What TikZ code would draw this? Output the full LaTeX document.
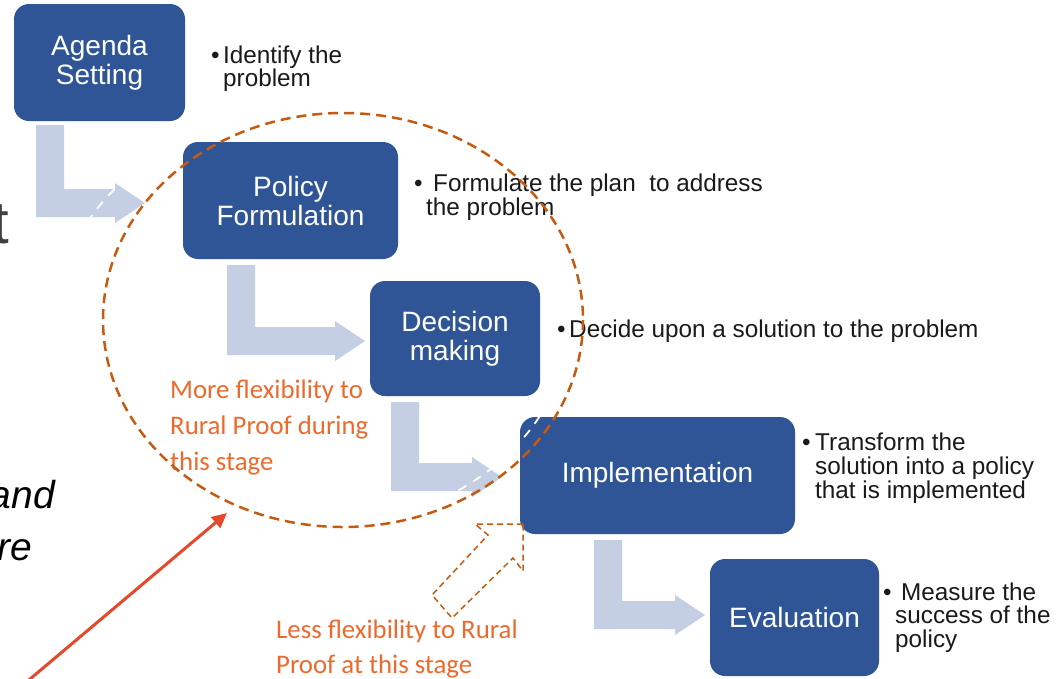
\documentclass[tikz,border=0pt]{standalone}
\usepackage{fontspec}
\setmainfont{Liberation Sans}
\newfontfamily\calibfont{Carlito}
\usetikzlibrary{arrows.meta}
\definecolor{boxblue}{HTML}{2F5597}
\definecolor{arrowgray}{HTML}{C4CFE3}
\definecolor{circbrown}{HTML}{C55A11}
\definecolor{noteorange}{HTML}{EE6A2C}
\definecolor{redarrow}{HTML}{E5482A}
\definecolor{fraggray}{HTML}{404040}
\definecolor{bodytext}{HTML}{1A1A1A}
\newcommand\bentarrow[4]{%
  \fill[larrow] (#1,#2) -- ({#1+28},#2) -- ({#1+28},{#3-28}) -- ({#4-30},{#3-28})
    -- ({#4-30},{#3-14-20}) -- (#4,{#3-14}) -- ({#4-30},{#3-14+20}) -- ({#4-30},#3)
    -- (#1,#3) -- cycle;}
\begin{document}
\begin{tikzpicture}[x=1pt,y=-1pt,
  stage/.style={fill=boxblue, rounded corners=15pt, text=white, align=center,
    font=\fontsize{28}{29}\selectfont, inner sep=0pt},
  btext/.style={anchor=base west, inner sep=0pt, font=\fontsize{24.3}{24}\selectfont, text=bodytext},
  note/.style={anchor=base west, inner sep=0pt, font=\calibfont\fontsize{26.8}{26}\selectfont, text=noteorange},
  larrow/.style={fill=arrowgray},
  circdash/.style={line width=2.5pt, dash pattern=on 10pt off 6pt},
]
\useasboundingbox (0,0) rectangle (1062,678);
\clip (0,0) rectangle (1062,678);
\fill[white] (0,0) rectangle (1062,678);

% fragments of slide text at the left edge
\node[anchor=base east, inner sep=0pt, font=\fontsize{60}{60}\selectfont, text=fraggray] (fragt) at (9,243) {t};
\node[anchor=base east, inner sep=0pt, font=\itshape\fontsize{39}{39}\selectfont, text=black] (fragand) at (55,508) {and};
\node[anchor=base east, inner sep=0pt, font=\itshape\fontsize{39}{39}\selectfont, text=black] (fragre) at (32,560) {re};

% bent arrows
\bentarrow{36}{125}{217}{145}
\bentarrow{227}{265}{355}{365}
\bentarrow{391}{402}{491}{502}
\bentarrow{594}{540}{629}{705}

% stage boxes
\node[stage, minimum width=171pt, minimum height=117pt] (agenda) at (99.5,62.5) {Agenda\\Setting};
\node[stage, minimum width=215pt, minimum height=117pt] (policy) at (290.5,200.5) {Policy\\Formulation};
\node[stage, minimum width=170pt, minimum height=115pt] (decision) at (455,338.5) {Decision\\making};
\node[stage, minimum width=275pt, minimum height=117pt] (implem) at (657.5,475.5) {Implementation};
\node[stage, minimum width=169pt, minimum height=117pt] (evalu) at (794.5,617.5) {Evaluation};

% faint white copy of the circle
\draw[white, line width=1.8pt, dash pattern=on 9pt off 8pt] (313,320) ellipse [x radius=256, y radius=207];

% bullet texts
\node[btext] (b1) at (211,63) {•};
\node[btext] (t1a) at (223,63) {Identify the};
\node[btext] (t1b) at (223,86) {problem};
\node[btext] (b2) at (414,191) {•};
\node[btext] (t2a) at (433,191) {Formulate the plan\ \ to address};
\node[btext] (t2b) at (426,215) {the problem};
\node[btext] (b3) at (557,337) {•};
\node[btext] (t3a) at (569,337) {Decide upon a solution to the problem};
\node[btext] (b4) at (802,450) {•};
\node[btext] (t4a) at (815,450) {Transform the};
\node[btext] (t4b) at (815,474) {solution into a policy};
\node[btext] (t4c) at (815,498) {that is implemented};
\node[btext] (b5) at (883,600) {•};
\node[btext] (t5a) at (901,600) {Measure the};
\node[btext] (t5b) at (895,623) {success of the};
\node[btext] (t5c) at (895,647) {policy};

% orange notes
\node[note] (n1a) at (170,398) {More flexibility to};
\node[note] (n1b) at (170,434) {Rural Proof during};
\node[note] (n1c) at (170,470) {this stage};
\node[note] (n2a) at (276,638) {Less flexibility to Rural};
\node[note] (n2b) at (276,673) {Proof at this stage};

% dashed circle
\draw[circbrown, circdash] (343,320) ellipse [x radius=240, y radius=207];

% hollow dashed arrow
\draw[circbrown, line width=1.5pt, dash pattern=on 6pt off 4pt, line join=miter]
  (523,524) -- (475,524) -- (488,535) -- (432,595) -- (452,618) -- (513,558) -- (523,571) -- cycle;

% red arrow
\coordinate (redstart) at (17,690);
\coordinate (redtip) at (227,513);
\draw[redarrow, line width=3pt, -{Triangle[length=15pt,width=14pt]}] (redstart) -- (redtip);
\end{tikzpicture}
\end{document}
